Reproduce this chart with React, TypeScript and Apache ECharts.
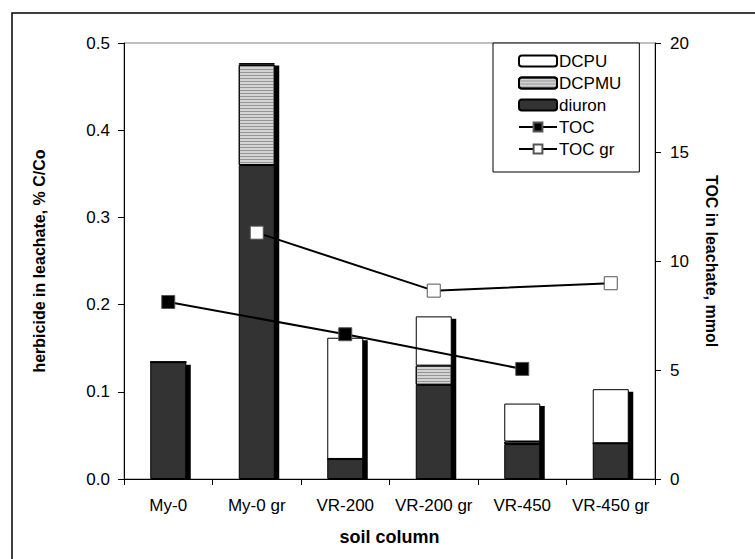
import React, { useEffect, useRef } from "react";
import * as echarts from "echarts";

const categories = ["My-0", "My-0 gr", "VR-200", "VR-200 gr", "VR-450", "VR-450 gr"];
const diuron = [0.134, 0.36, 0.023, 0.108, 0.04, 0.041];
const dcpmu = [0, 0.115, 0, 0.022, 0.003, 0];
const dcpu = [0, 0.002, 0.139, 0.0565, 0.0435, 0.062];
const toc = [8.12, null, 6.64, null, 5.05, null];
const tocGr = [null, 11.3, null, 8.64, null, 8.98];
const leftTicks = [0, 0.1, 0.2, 0.3, 0.4, 0.5];
const rightTicks = [0, 5, 10, 15, 20];

const FONT = 'Arial, "Liberation Sans", sans-serif';
const BAR_W = 36;

export default function App() {
  const ref = useRef<HTMLDivElement>(null);
  useEffect(() => {
    if (!ref.current) return;
    const chart = echarts.init(ref.current, null, { renderer: "svg" });
    const totals = categories.map((_, i) => diuron[i] + dcpmu[i] + dcpu[i]);
    const barBase = {
      type: "bar",
      stack: "h",
      barWidth: BAR_W,
      z: 2,
    };
    chart.setOption({
      animation: false,
      textStyle: { fontFamily: FONT },
      grid: {
        left: 124,
        right: 100,
        top: 43,
        bottom: 80,
        show: true,
        borderColor: "#808080",
        borderWidth: 1,
        backgroundColor: "transparent",
      },
      graphic: [
        {
          type: "rect",
          shape: { x: 12, y: 13, width: 900, height: 700 },
          style: { fill: "none", stroke: "#000", lineWidth: 1.5 },
          silent: true,
        },
      ],
      legend: {
        orient: "vertical",
        left: 493,
        top: 43,
        data: ["DCPU", "DCPMU", "diuron", "TOC", "TOC gr"],
        backgroundColor: "#fff",
        borderColor: "#000",
        borderWidth: 1,
        borderRadius: 0,
        padding: [9, 18, 14, 25],
        itemWidth: 38,
        itemHeight: 11,
        itemGap: 4,
        textStyle: { fontSize: 17, color: "#000", lineHeight: 18, fontFamily: FONT, padding: [0, 0, 0, -3] },
        inactiveColor: "#000",
      },
      xAxis: {
        type: "category",
        data: categories,
        axisLine: { lineStyle: { color: "#000", width: 1 } },
        axisTick: { show: true, length: 6, lineStyle: { color: "#000" } },
        axisLabel: { color: "#000", fontSize: 17, margin: 18, fontFamily: FONT, interval: 0 },
        name: "soil column",
        nameLocation: "middle",
        nameGap: 49,
        nameTextStyle: { fontSize: 18, fontWeight: "bold", color: "#000", fontFamily: FONT },
      },
      yAxis: [
        {
          type: "value",
          min: leftTicks[0],
          max: leftTicks[leftTicks.length - 1],
          interval: 0.1,
          splitLine: { show: false },
          axisLine: { show: true, lineStyle: { color: "#000", width: 1 } },
          axisTick: { show: true, length: 6, lineStyle: { color: "#000" } },
          axisLabel: {
            color: "#000",
            fontSize: 17,
            margin: 14,
            fontFamily: FONT,
            formatter: (v: number) => v.toFixed(1),
          },
          name: "herbicide in leachate, % C/Co",
          nameLocation: "middle",
          nameGap: 77,
          nameRotate: 90,
          nameTextStyle: { fontSize: 16, fontWeight: "bold", color: "#000", fontFamily: FONT },
        },
        {
          type: "value",
          min: rightTicks[0],
          max: rightTicks[rightTicks.length - 1],
          interval: 5,
          position: "right",
          splitLine: { show: false },
          axisLine: { show: true, lineStyle: { color: "#000", width: 1 } },
          axisTick: { show: true, length: 6, lineStyle: { color: "#000" } },
          axisLabel: { color: "#000", fontSize: 17, margin: 15, fontFamily: FONT },
          name: "TOC in leachate, mmol",
          nameLocation: "middle",
          nameGap: 48,
          nameRotate: -90,
          nameTextStyle: { fontSize: 16, fontWeight: "bold", color: "#000", fontFamily: FONT },
        },
      ],
      series: [
        {
          type: "custom",
          name: "shadow",
          z: 1,
          silent: true,
          data: totals.map((t, i) => [i, t]),
          renderItem: (params: any, api: any) => {
            const idx = api.value(0);
            const top = api.coord([idx, api.value(1)]);
            const base = api.coord([idx, 0]);
            return {
              type: "rect",
              shape: {
                x: top[0] - BAR_W / 2 + 4.5,
                y: top[1] + 2.5,
                width: BAR_W,
                height: Math.max(0, base[1] - top[1] - 2.5),
              },
              style: { fill: "#000" },
            };
          },
        },
        {
          ...barBase,
          name: "diuron",
          data: diuron,
          itemStyle: { color: "#333333", borderColor: "#000", borderWidth: 1 },
        },
        {
          ...barBase,
          name: "DCPMU",
          data: dcpmu,
          itemStyle: {
            color: "#d4d4d4",
            borderColor: "#000",
            borderWidth: 1,
            decal: {
              symbol: "rect",
              symbolSize: 1,
              dashArrayX: [1, 0],
              dashArrayY: [1, 2],
              color: "#959595",
              rotation: 0,
            },
          },
        },
        {
          ...barBase,
          name: "DCPU",
          data: dcpu,
          itemStyle: { color: "#ffffff", borderColor: "#000", borderWidth: 1 },
        },
        {
          type: "line",
          name: "TOC",
          yAxisIndex: 1,
          data: toc,
          connectNulls: true,
          symbol: "rect",
          symbolSize: 13,
          z: 4,
          lineStyle: { color: "#000", width: 2 },
          itemStyle: { color: "#000", borderColor: "#555", borderWidth: 1 },
        },
        {
          type: "line",
          name: "TOC gr",
          yAxisIndex: 1,
          data: tocGr,
          connectNulls: true,
          symbol: "rect",
          symbolSize: 13,
          z: 4,
          lineStyle: { color: "#000", width: 2 },
          itemStyle: { color: "#fff", borderColor: "#555", borderWidth: 1 },
        },
      ],
    });
    return () => chart.dispose();
  }, []);
  return (
    <div
      ref={ref}
      style={{ position: "absolute", left: 0, top: 0, width: 755, height: 559, background: "#fff" }}
    />
  );
}
